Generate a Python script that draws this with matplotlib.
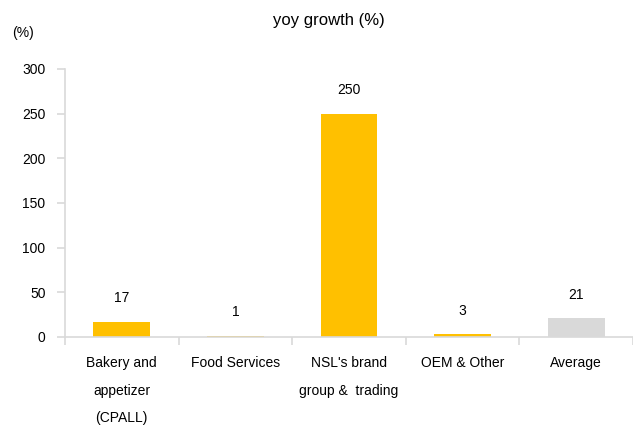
import numpy as np
import matplotlib.pyplot as plt

plt.rcParams['font.family'] = ['Liberation Sans', 'DejaVu Sans']

# data
categories = ['Bakery and\nappetizer\n(CPALL)', 'Food Services',
              "NSL's brand\ngroup &  trading", 'OEM & Other', 'Average']
growth = [17, 1, 250, 3, 21]
bar_colors = ['#FFC000', '#FFC000', '#FFC000', '#FFC000', '#D9D9D9']
yticks = [0, 50, 100, 150, 200, 250, 300]

fig = plt.figure(figsize=(6.33, 4.25), dpi=100)
ax = fig.add_axes([65 / 633, 88 / 425, 1 - 65 / 633, (337 - 69) / 425])

x = np.arange(len(categories))
bars = ax.bar(x, growth, width=0.5, color=bar_colors)

for xi, v in zip(x, growth):
    ax.annotate(str(v), (xi, v), xytext=(0, 17), textcoords='offset points',
                ha='center', va='center', fontsize=10)

ax.set_xlim(-0.5, len(categories) - 0.5)
ax.set_ylim(0, 300)
ax.set_yticks(yticks)
ax.set_xticks(x)
ax.set_xticklabels(categories, fontsize=10, linespacing=2.2, va='top')
ax.set_xticks(np.arange(-0.5, len(categories)), minor=True)

for s in ['top', 'right']:
    ax.spines[s].set_visible(False)
for s in ['left', 'bottom']:
    ax.spines[s].set_color('#D9D9D9')
    ax.spines[s].set_linewidth(1.2)

ax.tick_params(axis='x', which='major', length=0, pad=14)
ax.tick_params(axis='x', which='minor', length=6, color='#D9D9D9', width=1.2)
ax.tick_params(axis='y', length=6, color='#D9D9D9', width=1.2, labelsize=10, pad=8)

fig.text(329 / 633, 1 - 20 / 425, 'yoy growth (%)', ha='center', va='center', fontsize=12)
fig.text(23 / 633, 1 - 33 / 425, '(%)', ha='center', va='center', fontsize=10)

fig.savefig('out.png', dpi=100)
